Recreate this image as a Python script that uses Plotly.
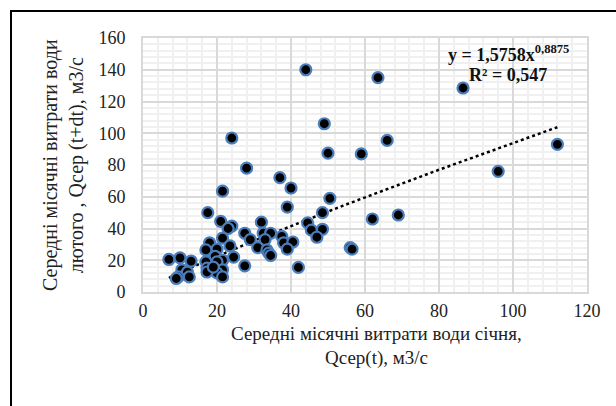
import numpy as np
import plotly.graph_objects as go

# Data
x_jan = [44, 63.5, 86.5, 66, 59, 49, 50, 24, 28, 112, 96, 50.5, 62, 69, 56, 56.5, 48.5,
         37, 40, 21.5, 39, 17.5, 21, 24, 23, 32, 44.5, 45.5, 48.5, 47, 27.5, 32.5, 34.5,
         37.5, 21.5, 29, 33, 38, 40.5, 18, 23.5, 20, 31, 33.5, 39, 34, 34.5, 17, 19.5,
         24.5, 21.5, 7, 10, 13, 17, 20, 27.5, 42, 17.3, 21.5, 10.5, 12, 20, 9.5, 12.5,
         21.5, 9, 17.3, 19]
y_feb = [140, 135, 128.5, 95.5, 87, 106, 87.5, 97, 78, 93, 76, 59, 46, 48.5, 28, 27, 50,
         72, 65.5, 63.5, 53.5, 50, 44.5, 41.5, 40, 44, 43.5, 39, 39.5, 34.5, 37, 37, 37,
         35, 34, 33, 33, 31, 31.5, 31, 29, 27, 28, 26.5, 27, 24.5, 23, 26.5, 22.5,
         22, 20, 20.5, 21.5, 19.5, 19, 19, 16.5, 15.5, 15, 14, 14, 12.5, 12, 9.5, 9.5,
         9.5, 8.5, 12.6, 15.7]

# Power trendline coefficients (as shown on the chart)
coef_a = 1.5758
coef_b = 0.8875
eq_text = "y = 1,5758x<sup>0,8875</sup>"
r2_text = "R² = 0,547"

x_ticks = [0, 20, 40, 60, 80, 100, 120]
y_ticks = [0, 20, 40, 60, 80, 100, 120, 140, 160]

x_title = ["Середні місячні витрати води січня,", "Qсер(t), м3/с"]
y_title = "Середні місячні витрати води<br>лютого , Qсер (t+dt), м3/с"

FONT = "Liberation Serif"

fig = go.Figure()

tx = np.linspace(min(x_jan), max(x_jan), 200)
ty = coef_a * tx ** coef_b
fig.add_trace(go.Scatter(x=tx, y=ty, mode="lines",
                         line=dict(color="black", width=2.5, dash="dot"),
                         hoverinfo="skip", showlegend=False))

fig.add_trace(go.Scatter(x=x_jan, y=y_feb, mode="markers",
                         marker=dict(size=11, color="black",
                                     line=dict(color="#4a7ebb", width=2.2)),
                         showlegend=False))

fig.update_layout(
    width=616, height=406,
    margin=dict(l=143, r=29, t=38, b=114),
    paper_bgcolor="white", plot_bgcolor="white",
    font=dict(family=FONT, size=18, color="#222"),
    xaxis=dict(range=[0, 120], tickvals=x_ticks, showgrid=True,
               gridcolor="#d9d9d9", gridwidth=1.5,
               showline=True, mirror=True, linecolor="#d9d9d9", linewidth=2,
               zeroline=False, ticks="", ticklen=0, ticklabelstandoff=1,
               minor=dict(dtick=4, showgrid=True, gridcolor="#f0f0f0", gridwidth=2),
               tickfont=dict(family=FONT, size=18, color="#222")),
    yaxis=dict(range=[0, 160], tickvals=y_ticks, showgrid=True,
               gridcolor="#d9d9d9", gridwidth=1.5,
               showline=True, mirror=True, linecolor="#d9d9d9", linewidth=2,
               zeroline=False, ticks="", ticklen=0, ticklabelstandoff=12,
               minor=dict(dtick=4, showgrid=True, gridcolor="#f0f0f0", gridwidth=2),
               tickfont=dict(family=FONT, size=18, color="#222")),
)

# outer frame
fig.add_shape(type="rect", xref="paper", yref="paper",
              x0=(11 - 143) / 444, x1=(630 - 143) / 444,
              y0=(292 - 420) / 254, y1=(292 - 11) / 254,
              line=dict(color="black", width=2), fillcolor="rgba(0,0,0,0)", layer="above")

# y title
fig.add_annotation(text=y_title, xref="paper", yref="paper",
                   x=(63 - 143) / 444, y=0.5, textangle=-90, showarrow=False,
                   xanchor="center", yanchor="middle",
                   font=dict(family=FONT, size=20, color="#222"))
# x title (two lines)
fig.add_annotation(text=x_title[0], xref="paper", yref="paper",
                   x=(376 - 143) / 444, y=(292 - 333) / 254, showarrow=False,
                   xanchor="center", yanchor="middle",
                   font=dict(family=FONT, size=19, color="#222"))
fig.add_annotation(text=x_title[1], xref="paper", yref="paper",
                   x=(376 - 143) / 444, y=(292 - 358) / 254, showarrow=False,
                   xanchor="center", yanchor="middle",
                   font=dict(family=FONT, size=19, color="#222"))

# equation
fig.add_annotation(text="<b>" + eq_text + "</b>", xref="paper", yref="paper",
                   x=(508 - 143) / 444, y=(292 - 53) / 254, showarrow=False,
                   xanchor="center", yanchor="middle",
                   font=dict(family=FONT, size=18, color="#111"))
fig.add_annotation(text="<b>" + r2_text + "</b>", xref="paper", yref="paper",
                   x=(508 - 143) / 444, y=(292 - 75) / 254, showarrow=False,
                   xanchor="center", yanchor="middle",
                   font=dict(family=FONT, size=18, color="#111"))

fig.write_html("out.html")
